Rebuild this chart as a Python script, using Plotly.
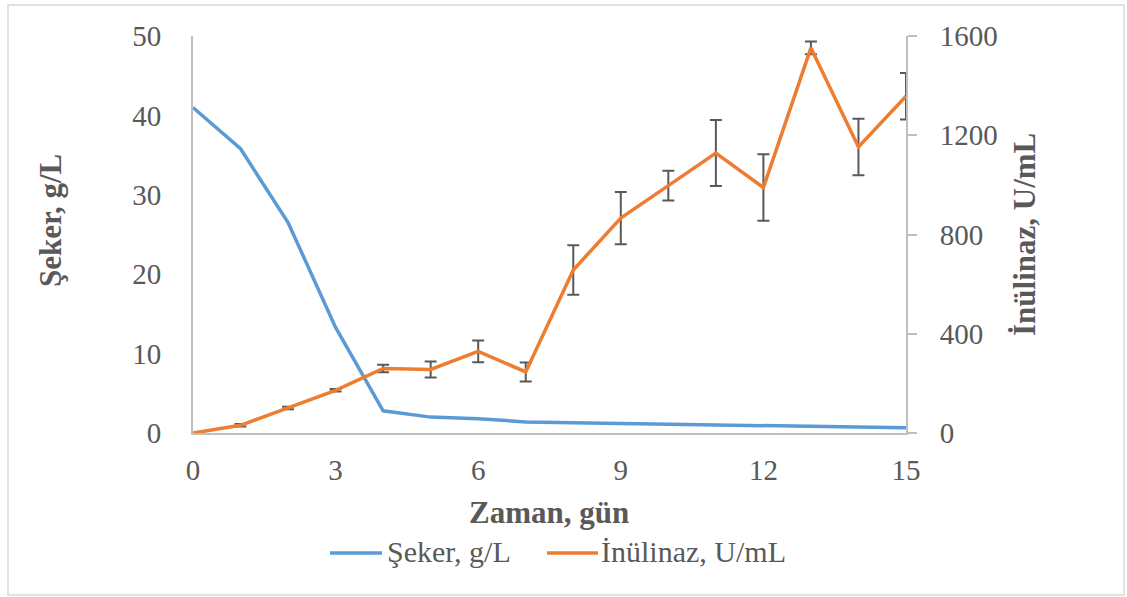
import plotly.graph_objects as go

# Zaman (gün) ekseni ve ölçülen seriler
gun = list(range(16))
seker = [41.0, 35.8, 26.5, 13.3, 2.8, 2.0, 1.8, 1.4, 1.3, 1.2, 1.15, 1.0, 0.85, 0.85, 0.7, 0.65]
inulinaz = [0, 31, 101, 172, 260, 256, 329, 246, 657, 866, 997, 1128, 989, 1552, 1153, 1357]
inulinaz_hata = [0, 5, 5, 5, 15, 32, 44, 38, 100, 105, 60, 133, 134, 26, 114, 94]

x_ticks = [0, 3, 6, 9, 12, 15]
y1_ticks = [0, 10, 20, 30, 40, 50]
y2_ticks = [0, 400, 800, 1200, 1600]

BLUE = "#5b9bd5"
ORANGE = "#ed7d31"
TEXT = "#595959"
AXIS = "#bfbfbf"
FONT = "Times New Roman, Liberation Serif, DejaVu Serif, serif"

W, H = 1127, 597
ML, MR, MT, MB = 193, 221, 36, 164
PW = W - ML - MR
PH = H - MT - MB


def px(xp):
    return (xp - ML) / PW


def py(yp):
    return (H - MB - yp) / PH


fig = go.Figure()
fig.add_trace(go.Scatter(
    x=gun, y=seker, mode="lines", name="Şeker, g/L",
    line=dict(color=BLUE, width=3.5), showlegend=False, yaxis="y",
))
fig.add_trace(go.Scatter(
    x=gun, y=inulinaz, mode="lines", name="İnülinaz, U/mL",
    line=dict(color=ORANGE, width=3.5), showlegend=False, yaxis="y2",
    error_y=dict(type="data", array=inulinaz_hata, visible=True,
                 color=TEXT, thickness=2, width=6),
))

tick_font = dict(family=FONT, size=29, color=TEXT)
title_font = dict(family=FONT, size=31, color=TEXT)

fig.update_layout(
    width=W, height=H,
    margin=dict(l=ML, r=MR, t=MT, b=MB),
    paper_bgcolor="white", plot_bgcolor="white",
    xaxis=dict(range=[0, 15], tickvals=x_ticks, ticktext=[str(v) for v in x_ticks],
               showgrid=False, zeroline=False, showline=True, linecolor=AXIS, linewidth=2,
               ticks="", tickfont=tick_font, ticklabelstandoff=10),
    yaxis=dict(range=[0, 50], tickvals=y1_ticks, ticktext=[str(v) for v in y1_ticks],
               showgrid=False, zeroline=False, showline=True, linecolor=AXIS, linewidth=2,
               ticks="", tickfont=tick_font, ticklabelstandoff=24),
    yaxis2=dict(range=[0, 1600], tickvals=y2_ticks, ticktext=[str(v) for v in y2_ticks],
                overlaying="y", side="right", anchor="x",
                showgrid=False, zeroline=False, showline=True, linecolor=AXIS, linewidth=2,
                ticks="outside", ticklen=9, tickwidth=2, tickcolor=AXIS,
                tickfont=tick_font, ticklabelstandoff=17),
)

shapes = [
    # dış çerçeve
    dict(type="rect", xref="paper", yref="paper",
         x0=px(8), x1=px(1124), y0=py(595), y1=py(5),
         line=dict(color="#d9d9d9", width=1.5), fillcolor="rgba(0,0,0,0)", layer="below"),
    # gösterge çizgileri
    dict(type="line", xref="paper", yref="paper",
         x0=px(330), x1=px(382), y0=py(553), y1=py(553),
         line=dict(color=BLUE, width=3.5)),
    dict(type="line", xref="paper", yref="paper",
         x0=px(547), x1=px(598), y0=py(553), y1=py(553),
         line=dict(color=ORANGE, width=3.5)),
]

annotations = [
    dict(text="<b>Zaman, gün</b>", x=px(549), y=py(512), xref="paper", yref="paper",
         xanchor="center", yanchor="middle", showarrow=False, font=title_font),
    dict(text="<b>Şeker, g/L</b>", x=px(50), y=py(221), xref="paper", yref="paper",
         xanchor="center", yanchor="middle", textangle=-90, showarrow=False, font=title_font),
    dict(text="<b>İnülinaz, U/mL</b>", x=px(1025), y=py(235), xref="paper", yref="paper",
         xanchor="center", yanchor="middle", textangle=-90, showarrow=False, font=title_font),
    dict(text="Şeker, g/L", x=px(385), y=py(551), xref="paper", yref="paper",
         xanchor="left", yanchor="middle", showarrow=False,
         font=dict(family=FONT, size=30, color=TEXT)),
    dict(text="İnülinaz, U/mL", x=px(599), y=py(551), xref="paper", yref="paper",
         xanchor="left", yanchor="middle", showarrow=False,
         font=dict(family=FONT, size=30, color=TEXT)),
]

fig.update_layout(shapes=shapes, annotations=annotations)
fig.write_html("out.html")
